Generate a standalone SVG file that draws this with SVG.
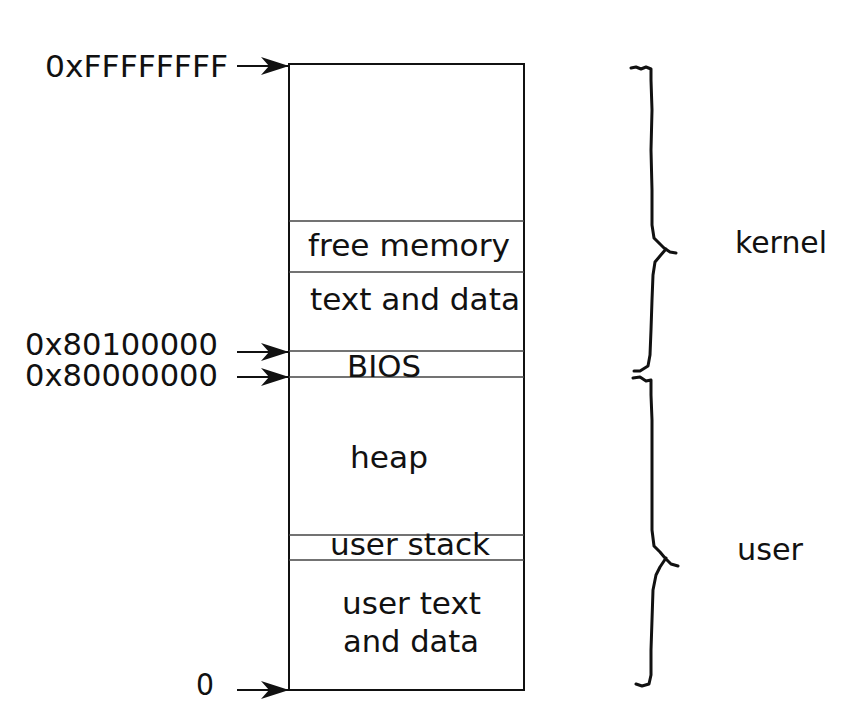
<svg xmlns="http://www.w3.org/2000/svg" width="863" height="701" viewBox="0 0 863 701">
<defs>
<style>
text{font-family:"DejaVu Sans","Verdana",sans-serif;font-size:30px;fill:#111}
.conn{stroke:#111;stroke-width:2;fill:none}
.div{stroke:#444;stroke-width:1.3}
.brace{stroke:#111;stroke-width:3;fill:none;stroke-linecap:round;stroke-linejoin:round}
</style>
<marker id="ah" viewBox="0 0 28 18" refX="28" refY="9" markerWidth="28" markerHeight="18" markerUnits="userSpaceOnUse" orient="auto">
<path d="M0,0 L28,9 L0,18 L8,9 Z" fill="#111"/>
</marker>
</defs>
<rect width="863" height="701" fill="#fff"/>
<g id="memory">
<rect x="289" y="64" width="235" height="626" fill="none" stroke="#111" stroke-width="2"/>
<line class="div" x1="289" y1="221" x2="524" y2="221"/>
<line class="div" x1="289" y1="272" x2="524" y2="272"/>
<line class="div" x1="289" y1="351" x2="524" y2="351"/>
<line class="div" x1="289" y1="377" x2="524" y2="377"/>
<line class="div" x1="289" y1="535" x2="524" y2="535"/>
<line class="div" x1="289" y1="560" x2="524" y2="560"/>
</g>
<g id="free-memory"><text x="308" y="256" textLength="202" lengthAdjust="spacingAndGlyphs">free memory</text></g>
<g id="kernel-text"><text x="310" y="310" textLength="210" lengthAdjust="spacingAndGlyphs">text and data</text></g>
<g id="bios"><text x="347" y="377" textLength="74" lengthAdjust="spacingAndGlyphs">BIOS</text></g>
<g id="heap"><text x="350" y="468" textLength="78" lengthAdjust="spacingAndGlyphs">heap</text></g>
<g id="user-stack"><text x="330" y="555" textLength="160" lengthAdjust="spacingAndGlyphs">user stack</text></g>
<g id="user-text"><text x="342" y="614" textLength="139" lengthAdjust="spacingAndGlyphs">user text</text><text x="343" y="652" textLength="136" lengthAdjust="spacingAndGlyphs">and data</text></g>
<g id="labels">
<text x="45" y="77" textLength="183" lengthAdjust="spacingAndGlyphs">0xFFFFFFFF</text>
<text x="25" y="355" textLength="193" lengthAdjust="spacingAndGlyphs">0x80100000</text>
<text x="25" y="386" textLength="193" lengthAdjust="spacingAndGlyphs">0x80000000</text>
<text x="196" y="695" textLength="18" lengthAdjust="spacingAndGlyphs">0</text>
<text x="735" y="253" textLength="92" lengthAdjust="spacingAndGlyphs">kernel</text>
<text x="737" y="560" textLength="66" lengthAdjust="spacingAndGlyphs">user</text>
</g>
<g id="connectors">
<line class="conn" x1="237" y1="66" x2="289" y2="66" marker-end="url(#ah)"/>
<line class="conn" x1="237" y1="352" x2="289" y2="352" marker-end="url(#ah)"/>
<line class="conn" x1="237" y1="377" x2="289" y2="377" marker-end="url(#ah)"/>
<line class="conn" x1="237" y1="690" x2="289" y2="690" marker-end="url(#ah)"/>
</g>
<g id="braces">
<path class="brace" d="M631,68 L636,67 L641,69 L646,67 L651,69 L651,80 L652,110 L651,150 L652,190 L652,225 L654,238 L660,244 L664,248 L670,252 L676,253 M666,249 L660,256 L655,262 L653,275 L652,300 L651,330 L650,355 L648,366 L640,371 L634,371 M633,378 L640,377 L646,381 L651,380 L651,395 L652,420 L652,460 L652,500 L652,530 L654,546 L660,552 L665,558 L671,564 L678,566 M666,558 L660,567 L656,575 L653,590 L652,620 L651,650 L651,675 L649,684 L642,686 L636,684"/>
</g>
</svg>
